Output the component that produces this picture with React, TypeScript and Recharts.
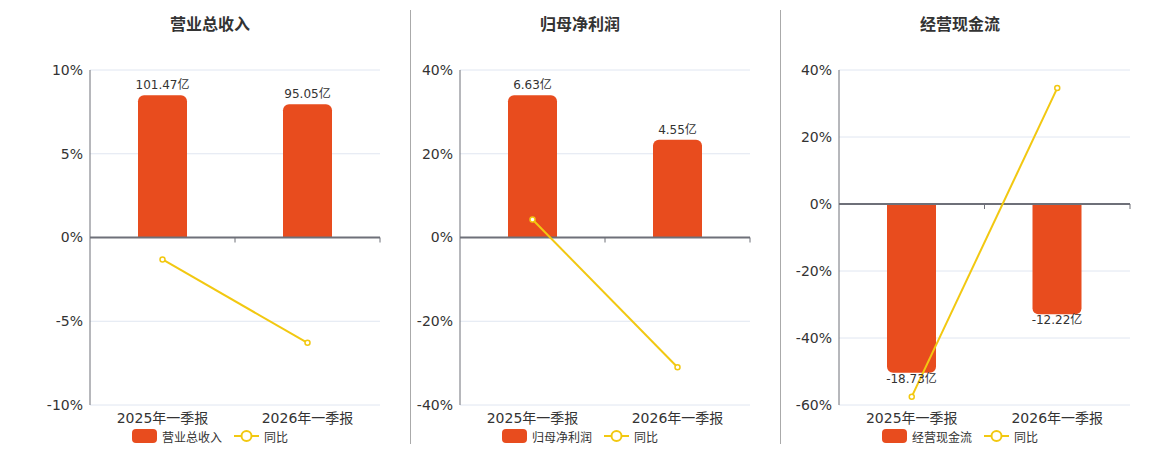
import React from 'react';
import { ComposedChart, Bar, Line, XAxis, YAxis, CartesianGrid, ReferenceLine, LabelList } from 'recharts';

const categories = ['2025年一季报', '2026年一季报'];

const revenueValues = [101.47, 95.05];
const revenueYoY = [-1.31, -6.29];
const revenueTicks = [-10, -5, 0, 5, 10];

const profitValues = [6.63, 4.55];
const profitYoY = [4.3, -31.0];
const profitTicks = [-40, -20, 0, 20, 40];

const cashValues = [-18.73, -12.22];
const cashYoY = [-57.5, 34.6];
const cashTicks = [-60, -40, -20, 0, 20, 40];

const FONT = '"DejaVu Sans", "Noto Sans CJK SC", sans-serif';
const BAR_COLOR = '#E84C1E';
const LINE_COLOR = '#F2C811';
const AXIS_COLOR = '#6E7079';
const GRID_COLOR = '#E0E6F1';
const TEXT_COLOR = '#333';

type PanelProps = {
  title: string;
  barName: string;
  values: number[];
  yoy: number[];
  ticks: number[];
  amtDomain: [number, number];
  left: number;
  width: number;
  titleCenter: number;
};

const BarLabel = (props: any) => {
  const { x, y, width, height, value } = props;
  const top = Math.min(y, y + height);
  const bottom = Math.max(y, y + height);
  const cx = x + width / 2;
  const neg = value < 0;
  return (
    <text
      x={cx}
      y={neg ? bottom + 10 : top - 6}
      textAnchor="middle"
      fontSize={12}
      fill={TEXT_COLOR}
      fontFamily={FONT}
    >
      {`${value}亿`}
    </text>
  );
};

const ZeroLine = (n: number) => (props: any) => {
  const { x1, y1, x2, y2 } = props;
  const marks = [];
  for (let i = 1; i <= n; i++) {
    const x = x1 + ((x2 - x1) * i) / n;
    marks.push(<line key={i} x1={x} y1={y1} x2={x} y2={y1 + 5} stroke={AXIS_COLOR} strokeWidth={1} />);
  }
  return (
    <g>
      <line x1={x1} y1={y1} x2={x2} y2={y2} stroke={AXIS_COLOR} strokeWidth={2} />
      {marks}
    </g>
  );
};

const Legend = ({ barName, center }: { barName: string; center: number }) => (
  <div
    style={{
      position: 'absolute',
      top: 428,
      left: center - 100,
      width: 200,
      display: 'flex',
      justifyContent: 'center',
      alignItems: 'center',
      fontFamily: FONT,
      fontSize: 12,
      color: TEXT_COLOR,
      height: 16,
    }}
  >
    <span style={{ display: 'inline-block', width: 25, height: 14, background: BAR_COLOR, borderRadius: 4, marginRight: 5 }} />
    <span style={{ marginRight: 12 }}>{barName}</span>
    <svg width={25} height={14} style={{ marginRight: 5 }}>
      <line x1={0} y1={7} x2={25} y2={7} stroke={LINE_COLOR} strokeWidth={2} />
      <circle cx={12.5} cy={7} r={5} fill="#fff" stroke={LINE_COLOR} strokeWidth={2} />
    </svg>
    <span>同比</span>
  </div>
);

const Panel = ({ title, barName, values, yoy, ticks, amtDomain, left, width, titleCenter }: PanelProps) => {
  const data = categories.map((c, i) => ({ name: c, amount: values[i], yoy: yoy[i] }));
  return (
    <>
      <div
        style={{
          position: 'absolute',
          top: 11,
          left: titleCenter - 100,
          width: 200,
          textAlign: 'center',
          fontFamily: '"Noto Sans CJK SC", sans-serif',
          fontWeight: 'bold',
          fontSize: 16,
          color: TEXT_COLOR,
        }}
      >
        {title}
      </div>
      <div style={{ position: 'absolute', left, top: 0 }}>
        <ComposedChart width={width} height={450} data={data} margin={{ top: 70, right: 20, bottom: 15, left: 0 }}>
          <CartesianGrid horizontal vertical={false} stroke={GRID_COLOR} />
          <XAxis
            dataKey="name"
            axisLine={false}
            tickLine={false}
            height={30}
            tick={{ fontSize: 14, fill: TEXT_COLOR, fontFamily: FONT }}
            interval={0}
          />
          <YAxis
            width={90}
            domain={[ticks[0], ticks[ticks.length - 1]]}
            ticks={ticks}
            tickFormatter={(v: number) => `${v}%`}
            axisLine={{ stroke: AXIS_COLOR }}
            tickLine={false}
            tickSize={5}
            tick={{ fontSize: 14, fill: TEXT_COLOR, fontFamily: FONT }}
            allowDataOverflow
          />
          <YAxis yAxisId="amt" hide domain={amtDomain} allowDataOverflow />
          <Bar yAxisId="amt" dataKey="amount" fill={BAR_COLOR} barSize={49} radius={[6, 6, 0, 0]} isAnimationActive={false}>
            <LabelList dataKey="amount" content={BarLabel} />
          </Bar>
          <ReferenceLine y={0} shape={ZeroLine(categories.length)} />
          <Line
            dataKey="yoy"
            stroke={LINE_COLOR}
            strokeWidth={2}
            dot={{ r: 2.5, fill: '#fff', stroke: LINE_COLOR, strokeWidth: 1.5 }}
            activeDot={false}
            isAnimationActive={false}
          />
        </ComposedChart>
      </div>
      <Legend barName={barName} center={titleCenter} />
    </>
  );
};

export default function App() {
  return (
    <div style={{ position: 'absolute', left: 0, top: 0, width: 1160, height: 450, background: '#fff' }}>
      <Panel
        title="营业总收入"
        barName="营业总收入"
        values={revenueValues}
        yoy={revenueYoY}
        ticks={revenueTicks}
        amtDomain={[-119.4, 119.4]}
        left={0}
        width={400}
        titleCenter={210}
      />
      <Panel
        title="归母净利润"
        barName="归母净利润"
        values={profitValues}
        yoy={profitYoY}
        ticks={profitTicks}
        amtDomain={[-7.8, 7.8]}
        left={370}
        width={400}
        titleCenter={580}
      />
      <Panel
        title="经营现金流"
        barName="经营现金流"
        values={cashValues}
        yoy={cashYoY}
        ticks={cashTicks}
        amtDomain={[-22.3, 14.87]}
        left={749}
        width={401}
        titleCenter={960}
      />
      <div style={{ position: 'absolute', left: 410, top: 10, width: 1, height: 434, background: '#AAAAAA' }} />
      <div style={{ position: 'absolute', left: 780, top: 10, width: 1, height: 434, background: '#AAAAAA' }} />
    </div>
  );
}
